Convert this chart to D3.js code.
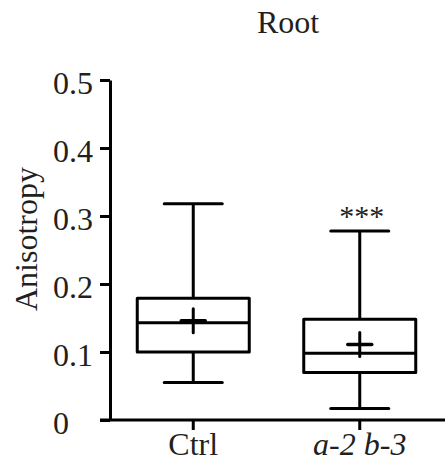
<!DOCTYPE html>
<html>
<head>
<meta charset="utf-8">
<script src="https://cdn.jsdelivr.net/npm/d3@7"></script>
<style>
  html, body { margin: 0; padding: 0; background: #fff; }
  svg { display: block; }
  text { font-family: "Liberation Serif", "Times New Roman", serif; fill: #231f20; }
</style>
</head>
<body>
<script>
const categories = ["Ctrl", "a-2 b-3"];
const italicCats = [false, true];
const whiskerLow = [0.055, 0.017];
const q1 = [0.100, 0.070];
const median = [0.143, 0.098];
const q3 = [0.179, 0.148];
const whiskerHigh = [0.318, 0.278];
const means = [0.146, 0.111];
const significance = ["", "***"];
const yTicks = [0, 0.1, 0.2, 0.3, 0.4, 0.5];
const yTickLabels = ["0", "0.1", "0.2", "0.3", "0.4", "0.5"];
const title = "Root";
const yLabel = "Anisotropy";

const W = 445, H = 468;
const FS = "32px";
const svg = d3.select("body").append("svg").attr("width", W).attr("height", H);

const y = d3.scaleLinear().domain([0, 0.5]).range([420, 80]);
const x = d3.scaleBand().domain(categories).range([110, 443]).padding(0);
const cx = c => x(c) + x.bandwidth() / 2;
const boxHalf = 56, capHalf = 29, plusHalf = 12;
const lw = 3;

// Y axis
const yAxis = svg.append("g").attr("transform", "translate(110,0)")
  .call(d3.axisLeft(y).tickValues(yTicks).tickFormat((d, i) => yTickLabels[i]).tickSize(10).tickSizeOuter(0));
yAxis.select(".domain").attr("stroke", "#000").attr("stroke-width", lw);
yAxis.selectAll(".tick line").attr("stroke", "#000").attr("stroke-width", lw);
yAxis.selectAll(".tick text").attr("x", -57).attr("text-anchor", "start")
  .attr("y", 13).attr("dy", 0).style("font-size", FS).style("font-family", "Liberation Serif").attr("fill", "#231f20");

// X axis
const xAxis = svg.append("g").attr("transform", "translate(0,420)")
  .call(d3.axisBottom(x).tickSize(10).tickSizeOuter(0));
xAxis.select(".domain").attr("d", "M100,0H445").attr("stroke", "#000").attr("stroke-width", lw);
xAxis.selectAll(".tick line").attr("stroke", "#000").attr("stroke-width", lw);
xAxis.selectAll(".tick text").attr("y", 35).attr("dy", 0)
  .style("font-size", FS).style("font-family", "Liberation Serif").attr("fill", "#231f20")
  .style("font-style", (d, i) => italicCats[i] ? "italic" : "normal");

// Boxes
const g = svg.append("g").attr("stroke", "#000").attr("stroke-width", lw).attr("fill", "none");
categories.forEach((c, i) => {
  const m = cx(c);
  g.append("line").attr("x1", m).attr("x2", m).attr("y1", y(whiskerHigh[i])).attr("y2", y(q3[i]));
  g.append("line").attr("x1", m).attr("x2", m).attr("y1", y(q1[i])).attr("y2", y(whiskerLow[i]));
  g.append("line").attr("x1", m - capHalf).attr("x2", m + capHalf).attr("y1", y(whiskerHigh[i])).attr("y2", y(whiskerHigh[i])).attr("stroke-linecap", "round");
  g.append("line").attr("x1", m - capHalf).attr("x2", m + capHalf).attr("y1", y(whiskerLow[i])).attr("y2", y(whiskerLow[i])).attr("stroke-linecap", "round");
  g.append("rect").attr("x", m - boxHalf).attr("y", y(q3[i])).attr("width", 2 * boxHalf)
    .attr("height", y(q1[i]) - y(q3[i])).attr("stroke-linejoin", "round");
  g.append("line").attr("x1", m - boxHalf).attr("x2", m + boxHalf).attr("y1", y(median[i])).attr("y2", y(median[i]));
  g.append("line").attr("x1", m - plusHalf).attr("x2", m + plusHalf).attr("y1", y(means[i])).attr("y2", y(means[i])).attr("stroke-width", 3.5).attr("stroke-linecap", "round");
  g.append("line").attr("x1", m).attr("x2", m).attr("y1", y(means[i]) - plusHalf).attr("y2", y(means[i]) + plusHalf).attr("stroke-linecap", "round");
  if (significance[i]) {
    svg.append("text").attr("x", m + 2).attr("y", y(whiskerHigh[i]) - 5)
      .attr("text-anchor", "middle").style("font-size", "30px").text(significance[i]);
  }
});

// Title
svg.append("text").attr("x", 288).attr("y", 33).attr("text-anchor", "middle").style("font-size", FS).text(title);

// Y label
svg.append("text").attr("transform", "translate(37,239) rotate(-90)").attr("text-anchor", "middle")
  .style("font-size", FS).text(yLabel);
</script>
</body>
</html>
